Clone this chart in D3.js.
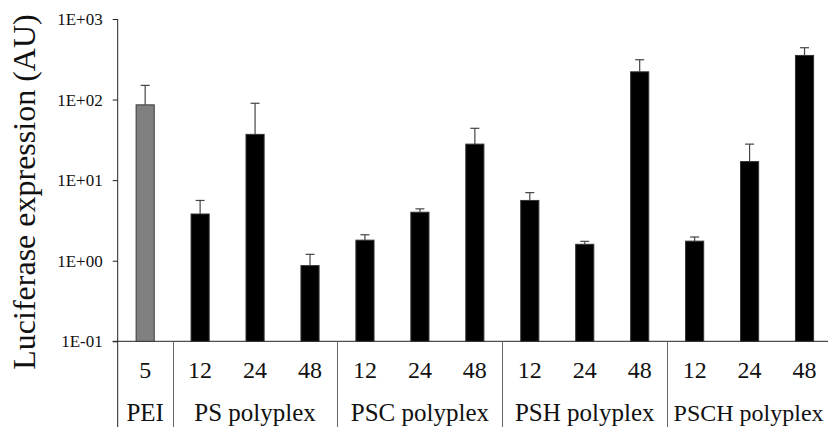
<!DOCTYPE html>
<html>
<head>
<meta charset="utf-8">
<script src="https://cdn.jsdelivr.net/npm/d3@7"></script>
<style>
  body { margin: 0; background: #fff; }
  svg { display: block; }
  text { font-family: "Liberation Serif", "Times New Roman", serif; }
</style>
</head>
<body>
<svg width="828" height="427"></svg>
<script>
var width = 828;
var height = 427;
var serif = '"Liberation Serif", "Times New Roman", serif';

// data
var groups = ["PEI", "PS polyplex", "PSC polyplex", "PSH polyplex", "PSCH polyplex"];
var groupSize = [1, 3, 3, 3, 3];
var hours = ["5", "12", "24", "48", "12", "24", "48", "12", "24", "48", "12", "24", "48"];
var values = [86, 3.8, 37, 0.87, 1.8, 4.0, 28, 5.6, 1.6, 221, 1.75, 17, 353];
var errTop = [150, 5.6, 90, 1.2, 2.1, 4.4, 44, 7.0, 1.74, 312, 1.97, 28, 440];
var yTicks = [0.1, 1, 10, 100, 1000];
var yTickLabels = ["1E-01", "1E+00", "1E+01", "1E+02", "1E+03"];

var svg = d3.select('svg');

var x0 = 117.7, x1 = 832; // band range (runs off the right edge like the original)
var yBottom = 341.3, yTop = 19;

var x = d3.scaleBand()
	.domain(d3.range(hours.length))
	.range([x0, x1])
	.paddingInner(0.67)
	.paddingOuter(0.335);

var y = d3.scaleLog()
	.domain([0.1, 1000])
	.range([yBottom, yTop]);

var step = x.step();
var bandStart = function(i) { return x0 + step * i; };

// y axis
var yAxis = d3.axisLeft(y)
	.tickValues(yTicks)
	.tickFormat(function(d, i) { return yTickLabels[i]; })
	.tickSize(5)
	.tickPadding(10);

var gy = svg.append('g')
	.attr('transform', 'translate(' + x0 + ',0)')
	.call(yAxis)
	.attr('font-family', serif);
gy.select('.domain').remove();
gy.selectAll('line').attr('stroke', '#222');
gy.selectAll('text')
	.style('font-family', serif)
	.style('font-size', '17px')
	.attr('fill', '#111');

// axis lines
svg.append('line')
	.attr('x1', x0).attr('x2', x0)
	.attr('y1', yTop).attr('y2', height)
	.attr('stroke', '#222');
svg.append('line')
	.attr('x1', x0 - 5).attr('x2', width)
	.attr('y1', yBottom).attr('y2', yBottom)
	.attr('stroke', '#222');

// group separators
var bounds = [];
var acc = 0;
groupSize.forEach(function(n) { acc += n; bounds.push(acc); });
bounds.pop();
svg.selectAll('line.sep')
	.data(bounds)
	.enter()
	.append('line')
	.attr('class', 'sep')
	.attr('x1', function(d) { return Math.round(bandStart(d)) + 0.5; })
	.attr('x2', function(d) { return Math.round(bandStart(d)) + 0.5; })
	.attr('y1', yBottom)
	.attr('y2', height)
	.attr('stroke', '#666');

// bars
svg.selectAll('rect.bar')
	.data(values)
	.enter()
	.append('rect')
	.attr('class', 'bar')
	.attr('x', function(d, i) { return x(i); })
	.attr('y', function(d) { return y(d); })
	.attr('width', x.bandwidth())
	.attr('height', function(d) { return yBottom - y(d); })
	.attr('fill', function(d, i) { return i == 0 ? '#808080' : '#000'; })
	.attr('stroke', function(d, i) { return i == 0 ? '#3a3a3a' : '#333'; })
	.attr('stroke-width', 1);

// error bars (upper only)
var cap = 4.5;
var err = svg.append('g').attr('stroke', '#444').attr('stroke-width', 1.2);
err.selectAll('line.v')
	.data(errTop)
	.enter()
	.append('line')
	.attr('x1', function(d, i) { return x(i) + x.bandwidth() / 2; })
	.attr('x2', function(d, i) { return x(i) + x.bandwidth() / 2; })
	.attr('y1', function(d, i) { return y(values[i]); })
	.attr('y2', function(d) { return y(d); });
err.selectAll('line.c')
	.data(errTop)
	.enter()
	.append('line')
	.attr('x1', function(d, i) { return x(i) + x.bandwidth() / 2 - cap; })
	.attr('x2', function(d, i) { return x(i) + x.bandwidth() / 2 + cap; })
	.attr('y1', function(d) { return y(d); })
	.attr('y2', function(d) { return y(d); });

// hour labels
svg.selectAll('text.hr')
	.data(hours)
	.enter()
	.append('text')
	.attr('class', 'hr')
	.attr('x', function(d, i) { return x(i) + x.bandwidth() / 2; })
	.attr('y', 378)
	.attr('text-anchor', 'middle')
	.style('font-family', serif)
	.style('font-size', '24px')
	.attr('fill', '#111')
	.text(function(d) { return d; });

// group labels
var start = 0;
var groupPos = groupSize.map(function(n) {
	var c = (bandStart(start) + bandStart(start + n)) / 2;
	start += n;
	return c;
});
groupPos[groupPos.length - 1] = (bandStart(10) + width) / 2 + 1;
svg.selectAll('text.grp')
	.data(groups)
	.enter()
	.append('text')
	.attr('class', 'grp')
	.attr('x', function(d, i) { return groupPos[i]; })
	.attr('y', 421)
	.attr('text-anchor', 'middle')
	.style('font-family', serif)
	.style('font-size', function(d, i) { return i == groups.length - 1 ? '24px' : '25px'; })
	.attr('fill', '#111')
	.text(function(d) { return d; });

// y title
svg.append('text')
	.attr('transform', 'translate(35,192) rotate(-90)')
	.attr('text-anchor', 'middle')
	.style('font-family', serif)
	.style('font-size', '32px')
	.attr('fill', '#111')
	.text('Luciferase expression (AU)');
</script>
</body>
</html>
